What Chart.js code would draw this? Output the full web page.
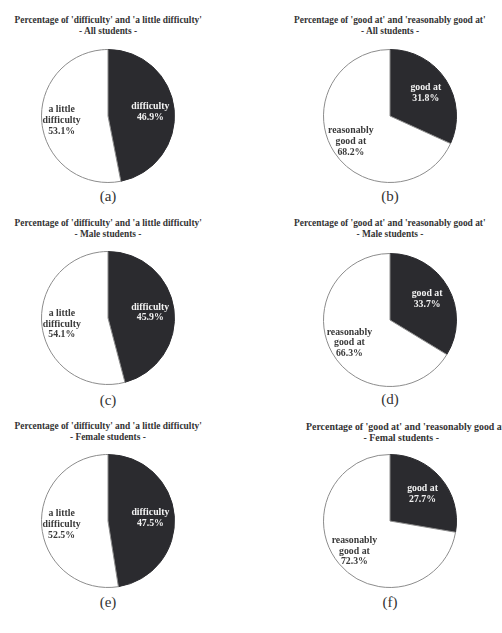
<!DOCTYPE html>
<html>
<head>
<meta charset="utf-8">
<script src="https://cdn.jsdelivr.net/npm/chart.js@4"></script>
<style>
  html, body { margin: 0; padding: 0; background: #fff; }
  body { width: 502px; height: 633px; position: relative; overflow: hidden; font-family: "Liberation Serif", "DejaVu Serif", serif; }
  .line { position: absolute; font-weight: bold; font-size: 9.4px; color: #333; white-space: nowrap; line-height: 11px; }
  .caption { position: absolute; font-size: 15px; color: #333; width: 40px; margin-left: -20px; text-align: center; }
  .pie { position: absolute; width: 136px; height: 136px; }
</style>
</head>
<body>
<div id="root"></div>
<script>
// Data
const difficultyNames = ["difficulty", "a little difficulty"];
const goodNames = ["good at", "reasonably good at"];
const allDifficulty = [46.9, 53.1];
const maleDifficulty = [45.9, 54.1];
const femaleDifficulty = [47.5, 52.5];
const allGood = [31.8, 68.2];
const maleGood = [33.7, 66.3];
const femaleGood = [27.7, 72.3];
const difficultyLines = [["difficulty"], ["a little", "difficulty"]];
const goodLines = [["good at"], ["reasonably", "good at"]];
const captions = ["(a)", "(b)", "(c)", "(d)", "(e)", "(f)"];

const panels = [
  { title: "Percentage of  'difficulty' and 'a little difficulty'", group: "- All students -", names: difficultyNames, values: allDifficulty, lines: difficultyLines, cx: 108, cy: 116, ty: 15, capY: 188 },
  { title: "Percentage of 'good at' and 'reasonably good at'", group: "- All students -", names: goodNames, values: allGood, lines: goodLines, cx: 390, cy: 116, ty: 15, capY: 188 },
  { title: "Percentage of 'difficulty' and 'a little difficulty'", group: "- Male students -", names: difficultyNames, values: maleDifficulty, lines: difficultyLines, cx: 108, cy: 318, ty: 218, capY: 392 },
  { title: "Percentage of 'good at' and 'reasonably good at'", group: "- Male students -", names: goodNames, values: maleGood, lines: goodLines, cx: 390, cy: 320, ty: 218, capY: 391 },
  { title: "Percentage of 'difficulty' and 'a little difficulty'", group: "- Female students -", names: difficultyNames, values: femaleDifficulty, lines: difficultyLines, cx: 108, cy: 521, ty: 421, capY: 594 },
  { title: "Percentage of 'good at' and 'reasonably good at'", group: "- Femal students -", names: goodNames, values: femaleGood, lines: goodLines, cx: 390, cy: 521, ty: 421, capY: 594, leftTitle: 306, groupX: 401, size: 9.9 }
];

// Draws the text inside each slice
const sliceLabels = {
  id: "sliceLabels",
  afterDatasetsDraw(chart) {
    const ctx = chart.ctx;
    const meta = chart.getDatasetMeta(0);
    const lines = chart.options.plugins.sliceLabels.lines;
    const values = chart.data.datasets[0].data;
    ctx.save();
    ctx.font = "bold 9.8px 'Liberation Serif', serif";
    ctx.textAlign = "center";
    ctx.textBaseline = "middle";
    meta.data.forEach((arc, i) => {
      const p = arc.getProps(["x", "y", "startAngle", "endAngle", "outerRadius"], true);
      const mid = (p.startAngle + p.endAngle) / 2;
      const d = p.outerRadius * (i === 0 ? 0.64 : 0.7);
      const x = p.x + Math.cos(mid) * d;
      const y = p.y + Math.sin(mid) * d;
      const text = lines[i].concat([values[i].toFixed(1) + "%"]);
      const lh = 10.8;
      ctx.fillStyle = i === 0 ? "#f2f2f2" : "#3a3a3a";
      text.forEach((t, k) => {
        ctx.fillText(t, x, y + (k - (text.length - 1) / 2) * lh);
      });
    });
    ctx.restore();
  }
};

// Put one line of text, centred on x unless a left edge is given
function addLine(text, x, y, left, size) {
  const el = document.createElement("div");
  el.className = "line";
  el.textContent = text;
  if (size) el.style.fontSize = size + "px";
  document.getElementById("root").appendChild(el);
  el.style.left = (left !== undefined ? left : x - el.offsetWidth / 2) + "px";
  el.style.top = y + "px";
}

// Build one panel
function makePanel(panel, index) {
  const root = document.getElementById("root");

  addLine(panel.title, panel.cx, panel.ty, panel.leftTitle, panel.size);
  addLine(panel.group, panel.groupX || panel.cx, panel.ty + 11, undefined, panel.size);

  const box = document.createElement("div");
  box.className = "pie";
  box.style.left = (panel.cx - 68) + "px";
  box.style.top = (panel.cy - 68) + "px";
  const canvas = document.createElement("canvas");
  box.appendChild(canvas);
  root.appendChild(box);

  const cap = document.createElement("div");
  cap.className = "caption";
  cap.textContent = captions[index];
  cap.style.left = panel.cx + "px";
  cap.style.top = panel.capY + "px";
  root.appendChild(cap);

  new Chart(canvas, {
    type: "pie",
    data: {
      labels: panel.names,
      datasets: [
        {
          data: panel.values,
          backgroundColor: ["#2b2b2f", "#ffffff"],
          borderColor: ["#2b2b2f", "#8c8c8c"],
          borderWidth: 1
        }
      ]
    },
    options: {
      responsive: true,
      maintainAspectRatio: false,
      animation: false,
      layout: { padding: 1 },
      plugins: {
        legend: { display: false },
        tooltip: { enabled: false },
        sliceLabels: { lines: panel.lines }
      }
    },
    plugins: [sliceLabels]
  });
}

panels.forEach(makePanel);
</script>
</body>
</html>
